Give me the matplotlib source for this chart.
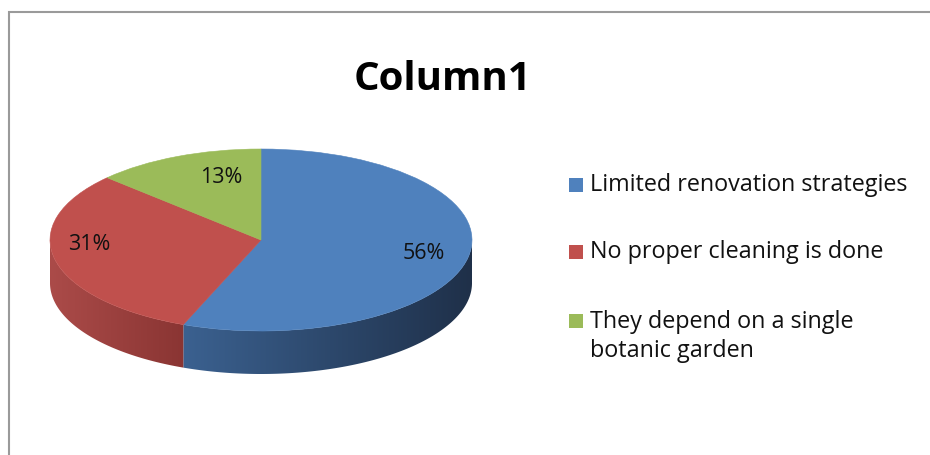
import numpy as np
import matplotlib
matplotlib.use("Agg")
import matplotlib.pyplot as plt
from matplotlib.patches import Polygon, Rectangle
from matplotlib.colors import LinearSegmentedColormap

# ---- data ----
title = "Column1"
categories = ["Limited renovation strategies",
              "No proper cleaning is done",
              "They depend on a single\nbotanic garden"]
values = [56, 31, 13]
top_colors = ["#4f81bd", "#c0504d", "#9bbb59"]
side_colors = [("#3b6190", "#1f3049"), ("#ab4b49", "#8a3533"), ("#7a9446", "#5d7334")]
label_pos = [(0.773, -0.143), (-0.815, -0.044), (-0.19, 0.69)]

plt.rcParams['font.family'] = ['Open Sans', 'DejaVu Sans']

W, H = 930, 455
fig = plt.figure(figsize=(W / 100, H / 100), dpi=100)

# frame
fig.add_artist(Rectangle((9 / W, -0.1), 1.2, 1 - 12 / H + 0.1, transform=fig.transFigure,
                         fill=False, edgecolor="#9a9a9a", linewidth=1.5))

depth = 43 / 91
ax = fig.add_axes([50 / W, (H - 374) / H, 422 / W, 225 / H])
wedges, texts, autotexts = ax.pie(values, colors=top_colors, startangle=90, counterclock=False,
                                  autopct='%.0f%%', radius=1, center=(0, 0),
                                  wedgeprops=dict(linewidth=0.4),
                                  textprops=dict(fontsize=15.5, color="#111111"))
for w, c in zip(wedges, top_colors):
    w.set_edgecolor(c)
    w.set_zorder(3)
for t, (x, y) in zip(autotexts, label_pos):
    t.set_position((x, y))
    t.set_ha('center')
    t.set_va('center')
    t.set_zorder(5)

# 3D side
for w, (cl, cr) in zip(wedges, side_colors):
    t1, t2 = w.theta1, w.theta2
    cx, cy = w.center
    r = w.r
    for k in (-2, -1, 0, 1):
        lo = max(t1, 180 + 360 * k)
        hi = min(t2, 360 + 360 * k)
        if hi <= lo:
            continue
        th = np.radians(np.linspace(lo, hi, 200))
        xs = cx + r * np.cos(th)
        ys = cy + r * np.sin(th)
        verts = np.concatenate([np.column_stack([xs, ys]),
                                np.column_stack([xs[::-1], ys[::-1] - depth])])
        poly = Polygon(verts, closed=True, transform=ax.transData, facecolor='none', edgecolor='none')
        ax.add_patch(poly)
        cmap = LinearSegmentedColormap.from_list("g", [cl, cr])
        im = ax.imshow(np.linspace(0, 1, 256).reshape(1, -1), cmap=cmap, aspect='auto',
                       extent=(xs.min(), xs.max(), ys.min() - depth - 0.02, ys.max() + 0.02),
                       interpolation='bilinear', zorder=2)
        im.set_clip_path(poly)

ax.set_aspect('auto')
ax.set_xlim(-1, 1)
ax.set_ylim(-1 - depth, 1)
ax.axis('off')

# title
fig.text(442 / W, 1 - 90 / H, title, ha='center', va='baseline', fontsize=29,
         fontweight='bold', color='black')

# legend
baselines = [191, 258, 327]
line_gap = 30
for c, lab, b in zip(top_colors, categories, baselines):
    fig.add_artist(Rectangle((569 / W, 1 - (b + 0.5) / H), 13.5 / W, 13.5 / H,
                             transform=fig.transFigure, facecolor=c, edgecolor='none'))
    nl = lab.count("\n")
    fig.text(590 / W, 1 - (b + nl * line_gap) / H, lab, ha='left', va='baseline', fontsize=16.8,
             color='#111111', linespacing=1.3)

fig.savefig("out.png", dpi=100)
